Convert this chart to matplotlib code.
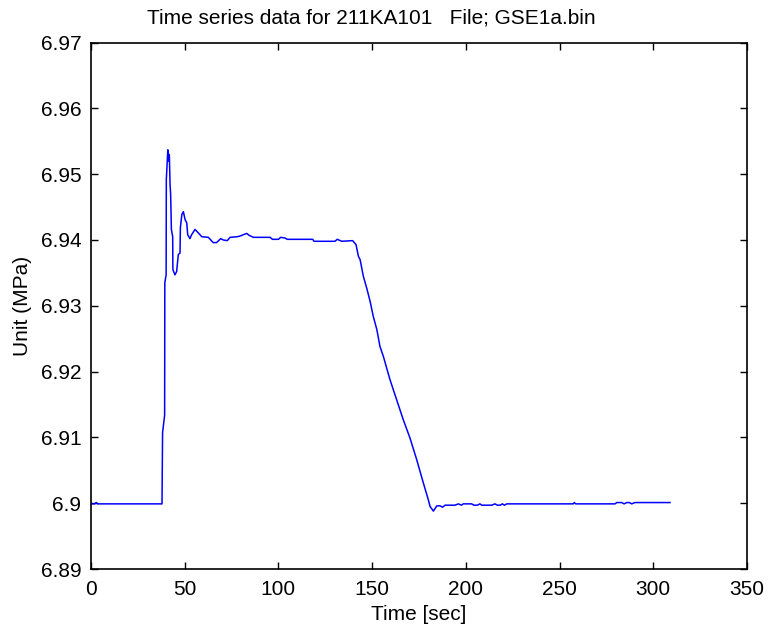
import numpy as np
import matplotlib
matplotlib.use('Agg')
import matplotlib.pyplot as plt

plt.rcParams['font.family'] = ['Liberation Sans', 'DejaVu Sans']

# time (sec) and pressure (MPa)
t = [0, 2.0, 2.8, 3.6, 37.9, 38.2, 39.3, 39.4, 40.1, 40.2, 41.0, 41.4, 41.8, 42.2, 42.5,
     42.9, 43.6, 43.7, 44.8, 45.7, 46.6, 47.5, 47.7, 48.5, 49.3, 50.2, 51.1, 51.6,
     52.8, 53.7, 55.5, 57.2, 59.1, 62.6, 65.2, 67.0, 69.2, 70.6, 72.7, 74.2, 78.1,
     79.5, 83.1, 84.4, 86.7, 95.6, 96.8, 100.0, 101.2, 103.5, 104.7, 118.3, 119.0,
     130.2, 131.4, 133.8, 139.6, 141.4, 142.7, 143.6, 145.3, 147.1, 148.9, 150.6,
     152.5, 154.2, 156.0, 157.8, 159.5, 163.1, 166.6, 170.2, 173.8, 177.3, 180.0,
     180.9, 182.7, 184.5, 186.2, 187.6, 188.9, 194.2, 196.0, 197.7, 198.6, 203.1,
     204.3, 206.1, 207.5, 208.5, 213.8, 215.5, 216.8, 218.3, 219.5, 220.6, 221.8,
     257.3, 257.9, 258.6, 279.6, 280.5, 283.2, 284.4, 285.9, 287.2, 288.5, 290.2,
     308.9]
p = [6.8999, 6.8999, 6.9001, 6.8999, 6.8999, 6.9107, 6.9134, 6.9335, 6.9347, 6.9492,
     6.9537, 6.9520, 6.9530, 6.9484, 6.9470,
     6.9416, 6.9405, 6.9355, 6.9347, 6.9352, 6.9378, 6.9380, 6.9419, 6.9439, 6.9443,
     6.9431, 6.9426, 6.9408,
     6.9402, 6.9408, 6.9416, 6.9411, 6.9405, 6.9404, 6.9396, 6.9396, 6.9402, 6.9400,
     6.9399, 6.9404, 6.9405,
     6.9406, 6.9410, 6.9407, 6.9404, 6.9404, 6.9401, 6.9401, 6.9404, 6.9403, 6.9401,
     6.9401, 6.9398,
     6.9398, 6.9401, 6.9398, 6.9399, 6.9393, 6.9375, 6.9370, 6.9345, 6.9327, 6.9307,
     6.9284,
     6.9264, 6.9238, 6.9223, 6.9205, 6.9188, 6.9157, 6.9127, 6.9099, 6.9066, 6.9031,
     6.9005,
     6.8995, 6.8988, 6.8996, 6.8996, 6.8994, 6.8997, 6.8997, 6.8999, 6.8997, 6.8999,
     6.8999,
     6.8997, 6.8997, 6.8999, 6.8997, 6.8997, 6.8999, 6.8997, 6.8997, 6.8999, 6.8997,
     6.8999,
     6.8999, 6.9001, 6.8999, 6.8999, 6.9001, 6.9001, 6.8999, 6.9001, 6.9001, 6.8999,
     6.9001,
     6.9001]

fig = plt.figure(figsize=(7.69, 6.35), dpi=100)
ax = fig.add_axes([0.1183, 0.1039, 0.8531, 0.8291])
ax.plot(t, p, color=(0, 0, 1), lw=1.1)

ax.set_xlim(0, 350)
ax.set_ylim(6.89, 6.97)
ax.set_xticks(np.arange(0, 351, 50))
ax.set_yticks(np.arange(6.89, 6.9701, 0.01))
ax.set_yticklabels(['6.89', '6.9', '6.91', '6.92', '6.93', '6.94', '6.95', '6.96', '6.97'])
for s in ax.spines.values():
    s.set_linewidth(1.2)
ax.tick_params(direction='in', top=True, right=True, labelsize=15, length=5, width=1.0)
ax.tick_params(axis='x', pad=8)
ax.tick_params(axis='y', pad=7)
ax.set_xlabel('Time [sec]', fontsize=15, labelpad=4)
ax.set_ylabel('Unit (MPa)', fontsize=15, labelpad=6)
ax.set_title('Time series data for 211KA101   File; GSE1a.bin', fontsize=15,
             pad=14, x=0.428)

fig.savefig('out.png', dpi=100)
